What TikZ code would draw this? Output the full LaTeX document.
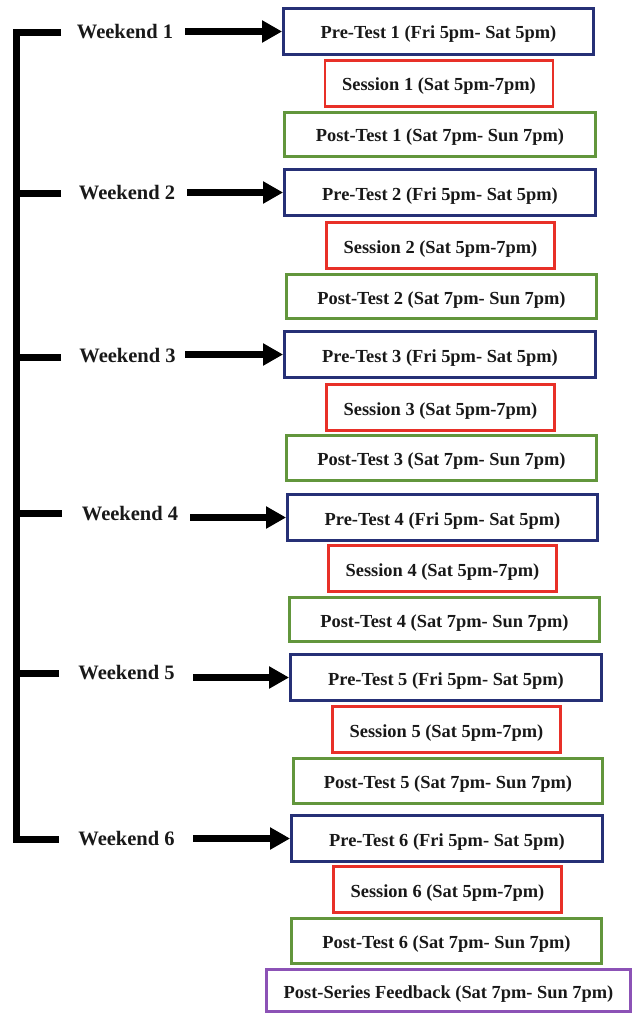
\documentclass[tikz,border=0pt]{standalone}
\usepackage{fontspec}
\setmainfont{Liberation Serif}
\usetikzlibrary{arrows.meta}
\definecolor{navy}{RGB}{38,48,118}
\definecolor{redb}{RGB}{232,48,40}
\definecolor{greenb}{RGB}{98,150,60}
\definecolor{purpleb}{RGB}{140,82,182}
\definecolor{txt}{RGB}{25,25,25}
\begin{document}
\begin{tikzpicture}[x=1pt,y=-1pt,
  boxbase/.style={draw, line width=2.8pt, fill=white, inner sep=0pt, text=txt,
    text height=17pt, text depth=2pt,
    font=\fontsize{18.4}{22}\selectfont\bfseries},
  prebox/.style={boxbase, draw=navy, minimum height=46pt},
  sessbox/.style={boxbase, draw=redb, minimum width=228pt, minimum height=46pt},
  postbox/.style={boxbase, draw=greenb, minimum height=44.5pt},
  fbbox/.style={boxbase, draw=purpleb, minimum height=42pt},
  wklabel/.style={inner sep=0pt, text=txt, font=\fontsize{20.5}{24}\selectfont\bfseries},
  arr/.style={line width=7pt, draw=black, -{Triangle[length=20pt,width=21pt]}},
  brk/.style={line width=7pt, draw=black, line join=miter, line cap=butt}]
\useasboundingbox (0,0) rectangle (633,1014);
\fill[white] (0,0) rectangle (633,1014);

% boxes
\node[prebox, minimum width=310pt] (pre1) at (438.5,31.5) {Pre-Test 1 (Fri 5pm- Sat 5pm)};
\node[sessbox] (ses1) at (439,83.5) {Session 1 (Sat 5pm-7pm)};
\node[postbox, minimum width=311pt] (post1) at (440,134.5) {Post-Test 1 (Sat 7pm- Sun 7pm)};

\node[prebox, minimum width=311pt] (pre2) at (440,192.5) {Pre-Test 2 (Fri 5pm- Sat 5pm)};
\node[sessbox] (ses2) at (440.5,245.5) {Session 2 (Sat 5pm-7pm)};
\node[postbox, minimum width=310pt] (post2) at (441.5,296.5) {Post-Test 2 (Sat 7pm- Sun 7pm)};

\node[prebox, minimum width=311pt] (pre3) at (440,354.5) {Pre-Test 3 (Fri 5pm- Sat 5pm)};
\node[sessbox] (ses3) at (440.5,407.5) {Session 3 (Sat 5pm-7pm)};
\node[postbox, minimum width=310pt] (post3) at (441.5,458) {Post-Test 3 (Sat 7pm- Sun 7pm)};

\node[prebox, minimum width=310pt] (pre4) at (442.5,517.5) {Pre-Test 4 (Fri 5pm- Sat 5pm)};
\node[sessbox] (ses4) at (442.5,568.5) {Session 4 (Sat 5pm-7pm)};
\node[postbox, minimum width=310pt] (post4) at (444.5,619.5) {Post-Test 4 (Sat 7pm- Sun 7pm)};

\node[prebox, minimum width=311pt] (pre5) at (446,677.5) {Pre-Test 5 (Fri 5pm- Sat 5pm)};
\node[sessbox] (ses5) at (446.5,729.5) {Session 5 (Sat 5pm-7pm)};
\node[postbox, minimum width=309pt] (post5) at (448,781) {Post-Test 5 (Sat 7pm- Sun 7pm)};

\node[prebox, minimum width=311pt] (pre6) at (447,838.5) {Pre-Test 6 (Fri 5pm- Sat 5pm)};
\node[sessbox] (ses6) at (447.5,889.5) {Session 6 (Sat 5pm-7pm)};
\node[postbox, minimum width=310pt] (post6) at (446.5,941) {Post-Test 6 (Sat 7pm- Sun 7pm)};

\node[fbbox, minimum width=364pt] (fb) at (448.5,990.5) {Post-Series Feedback (Sat 7pm- Sun 7pm)};

% weekend labels
\node[wklabel] (wk1) at (125,32) {Weekend 1};
\node[wklabel] (wk2) at (127,193) {Weekend 2};
\node[wklabel] (wk3) at (127.5,356) {Weekend 3};
\node[wklabel] (wk4) at (130,514) {Weekend 4};
\node[wklabel] (wk5) at (126.5,673) {Weekend 5};
\node[wklabel] (wk6) at (126.5,839) {Weekend 6};

% arrow starts
\coordinate (s1) at (185,31.5);
\coordinate (s2) at (187,192.5);
\coordinate (s3) at (185,354.5);
\coordinate (s4) at (190,517.5);
\coordinate (s5) at (193,677.5);
\coordinate (s6) at (193,838.5);
\draw[arr] (s1) -- (pre1.west);
\draw[arr] (s2) -- (pre2.west);
\draw[arr] (s3) -- (pre3.west);
\draw[arr] (s4) -- (pre4.west);
\draw[arr] (s5) -- (pre5.west);
\draw[arr] (s6) -- (pre6.west);

% bracket
\coordinate (t1) at (61,33);
\coordinate (t2) at (61,193);
\coordinate (t3) at (61,357);
\coordinate (t4) at (62,513);
\coordinate (t5) at (59,673);
\coordinate (t6) at (59,839);
\coordinate (v1) at (16.5,33);
\coordinate (v6) at (16.5,839);
\draw[brk] (t1) -- (v1) -- (v6) -- (t6);
\draw[brk] (t2) -- (t2 -| v1);
\draw[brk] (t3) -- (t3 -| v1);
\draw[brk] (t4) -- (t4 -| v1);
\draw[brk] (t5) -- (t5 -| v1);
\end{tikzpicture}
\end{document}
